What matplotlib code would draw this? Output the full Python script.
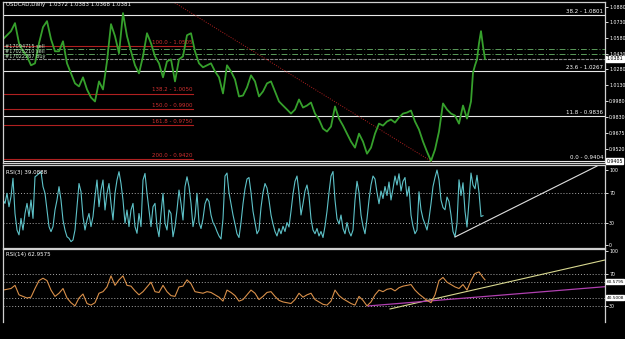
import matplotlib
matplotlib.use('Agg')
import matplotlib.pyplot as plt
import numpy as np

# ---- USDCAD daily closes (bar number / price)
price_days = [3, 7, 11, 15, 19, 23, 27, 31, 35, 39, 43, 47, 51, 55, 59, 63, 67, 71, 75, 79,
              83, 87, 91, 95, 99, 103, 107, 111, 115, 119, 123, 127, 131, 135, 139, 143, 147, 151, 155, 159,
              163, 167, 171, 175, 179, 183, 187, 191, 195, 199, 203, 207, 211, 215, 219, 223, 227, 231, 235, 239,
              243, 247, 251, 255, 259, 263, 267, 271, 275, 279, 283, 287, 291, 295, 299, 303, 307, 311, 315, 319,
              323, 327, 331, 335, 339, 343, 347, 351, 355, 359, 363, 367, 371, 375, 379, 383, 387, 391, 395, 399,
              403, 407, 411, 415, 419, 423, 427, 431, 435, 439, 443, 447, 451, 455, 459, 463, 467, 471, 473, 475,
              477, 479, 481, 483, 485]
price_close = [1.0570, 1.0608, 1.0647, 1.0724, 1.0531, 1.0454, 1.0406, 1.0320, 1.0339, 1.0531,
               1.0685, 1.0743, 1.0570, 1.0454, 1.0454, 1.0550, 1.0339, 1.0243, 1.0147, 1.0118,
               1.0205, 1.0089, 1.0012, 0.9974, 1.0166, 1.0089, 1.0358, 1.0714, 1.0599, 1.0435,
               1.0820, 1.0599, 1.0454, 1.0320, 1.0243, 1.0406, 1.0627, 1.0531, 1.0406, 1.0339,
               1.0205, 1.0358, 1.0377, 1.0166, 1.0377, 1.0406, 1.0608, 1.0627, 1.0454, 1.0339,
               1.0301, 1.0320, 1.0339, 1.0262, 1.0205, 1.0051, 1.0320, 1.0262, 1.0185, 1.0022,
               1.0031, 1.0108, 1.0224, 1.0166, 1.0022, 1.0070, 1.0147, 1.0166, 1.0070, 0.9974,
               0.9935, 0.9897, 0.9858, 0.9897, 0.9993, 0.9916, 0.9935, 0.9964, 0.9858, 0.9801,
               0.9714, 0.9686, 0.9734, 0.9926, 0.9810, 0.9743, 0.9666, 0.9590, 0.9532, 0.9666,
               0.9590, 0.9474, 0.9532, 0.9666, 0.9762, 0.9743, 0.9782, 0.9801, 0.9772, 0.9820,
               0.9858, 0.9868, 0.9887, 0.9782, 0.9705, 0.9590, 0.9493, 0.9405, 0.9513, 0.9686,
               0.9955, 0.9897, 0.9858, 0.9839, 0.9762, 0.9935, 0.9810, 0.9974, 1.0250, 1.0320,
               1.0377, 1.0531, 1.0647, 1.0502, 1.0381]

price_ticks = [1.0880, 1.0730, 1.0580, 1.0430, 1.0280, 1.0130, 0.9980, 0.9830, 0.9675, 0.9520]

fib_levels = ['38.2', '23.6', '11.8', '0.0']
fib_prices = [1.0801, 1.0267, 0.9836, 0.9404]

ext_levels = ['100.0', '138.2', '150.0', '161.8', '200.0']
ext_prices = [1.0505, 1.0050, 0.9900, 0.9750, 0.9420]

order_labels = ['#17094715 sell', '#17025210 sell', '#17022267 buy']
order_prices = [1.0476, 1.0428, 1.0381]

# ---- RSI(3), one value every 2 bars
rsi3 = [35.5, 60, 55.5, 69, 51, 64.5, 89, 42, 20, 13.5,
        35.5, 20, 42, 55.5, 38, 60, 35.5, 91, 93, 95.5,
        97.8, 77.8, 69, 46.7, 24.5, 17.8, 24.5, 46.7, 60, 77.8,
        60, 33.3, 20, 11, 8.9, 4.5, 6.7, 20, 51, 82,
        71, 38, 20, 33, 42, 24.5, 38, 64.5, 86.7, 51,
        73.3, 86.7, 46.7, 69, 82, 55.5, 33.3, 69, 86.7, 97.8,
        82, 60, 29, 46.7, 24.5, 46.7, 55.5, 24.5, 15.6, 42,
        24.5, 86.7, 95.5, 69, 46.7, 24.5, 51, 55.5, 24.5, 11,
        42, 69, 29, 20, 46.7, 42, 11, 24.5, 46.7, 73.3,
        55.5, 33.3, 77.8, 91, 77.8, 55.5, 24.5, 38, 69, 30,
        # bars 200..418
        22, 35, 55, 62, 58, 40, 30, 25, 18, 12,
        8, 35, 92, 96, 70, 55, 40, 28, 15, 10,
        30, 55, 75, 88, 90, 70, 45, 30, 15, 20,
        50, 70, 82, 76, 60, 40, 28, 18, 12, 22,
        15, 25, 18, 30, 24, 45, 68, 85, 92, 70,
        40, 55, 72, 80, 65, 35, 20, 15, 22, 12,
        18, 10, 25, 45, 70, 92, 98, 60, 35, 28,
        40, 22, 15, 30, 18, 12, 20, 60, 85, 70,
        40, 25, 15, 35, 60, 80, 92, 88, 70, 55,
        72, 62, 78, 66, 84, 60, 75, 92, 80, 95,
        72, 85, 90, 65, 78, 40, 25, 15, 20, 71,
        # bars 422..484
        47, 35, 28, 20, 35, 55, 78, 90, 100, 87,
        60, 50, 47, 64, 58, 40, 18, 11, 29, 87,
        66, 83, 45, 24, 58, 96, 80, 75, 93, 70,
        38, 39.09]

# ---- RSI(14)
rsi14_days = [3, 7, 11, 15, 19, 23, 27, 31, 35, 39, 43, 47, 51, 55, 59, 63, 67, 71, 75, 79,
              83, 87, 91, 95, 99, 103, 107, 111, 115, 119, 123, 127, 131, 135, 139, 143, 147, 151, 155, 159,
              163, 167, 171, 175, 179, 183, 187, 191, 195, 199, 203, 207, 211, 215, 219, 223, 227, 231, 235, 239,
              243, 247, 251, 255, 259, 263, 267, 271, 275, 279, 283, 287, 291, 295, 299, 303, 307, 311, 315, 319,
              323, 327, 331, 335, 339, 343, 347, 351, 355, 359, 363, 367, 371, 375, 379, 383, 387, 391, 395, 399,
              403, 407, 411, 415, 419, 423, 427, 431, 435, 439, 443, 447, 451, 455, 459, 463, 467, 471, 475, 479,
              483, 485]
rsi14 = [50, 51, 52, 56, 44, 42, 40, 41, 52, 62, 65, 62, 50, 42, 46, 52, 40, 34, 30, 40,
         45, 33, 31, 34, 46, 48, 54, 68, 56, 63, 68, 56, 55, 49, 44, 48, 54, 60, 48, 47,
         56, 48, 43, 42, 54, 55, 63, 58, 48, 47, 46, 48, 47, 44, 41, 36, 50, 47, 43, 36,
         38, 44, 50, 46, 38, 42, 47, 48, 42, 37, 35, 34, 33, 38, 46, 41, 44, 46, 38, 35,
         32, 31, 36, 50, 43, 39, 36, 33, 31, 42, 37, 30, 35, 44, 50, 48, 51, 52, 49, 53,
         55, 56, 57, 50, 45, 41, 37, 34, 44, 62, 66, 60, 57, 54, 52, 57, 50, 62, 71, 73,
         66, 62.96]

rsi14_levels = [60.5795, 40.5008]

green = '#36a02c'
grid_grey = '#a8a8a8'
frame = '#d0d0d0'
fs = 4
axfs = 3.4

fig = plt.figure(figsize=(6.25, 3.39), dpi=100, facecolor='black')
ax1 = fig.add_axes([3/625, 1-163/339, 602/625, 161/339])
ax2 = fig.add_axes([3/625, 1-248/339, 602/625, 83/339])
ax3 = fig.add_axes([3/625, 1-322/339, 602/625, 73/339])

for ax in (ax1, ax2, ax3):
    ax.set_facecolor('black')
    ax.set_xlim(3, 605)
    ax.set_xticks([])
    ax.yaxis.tick_right()
    ax.tick_params(axis='y', colors='white', labelsize=axfs, length=2, width=0.6, pad=1)
    for s in ax.spines.values():
        s.set_color(frame)
        s.set_linewidth(0.9)
ax3.spines['bottom'].set_visible(False)

# ---- main price panel
ax1.set_ylim(0.9385, 1.0926)
ax1.set_yticks(price_ticks)
ax1.set_yticklabels(['%.4f' % p for p in price_ticks])

for name, p in zip(fib_levels, fib_prices):
    ax1.axhline(p, color='#e8e8e8', lw=0.8)
    ax1.text(603, p + 0.0012, '%s - %.4f' % (name, p), color='white', fontsize=fs,
             ha='right', va='bottom')

for name, p in zip(ext_levels, ext_prices):
    ax1.plot([3, 193], [p, p], color='#b02020', lw=0.8)
    ax1.text(193, p + 0.0012, '%s - %.4f' % (name, p), color='#d03030', fontsize=fs,
             ha='right', va='bottom')

ax1.axhline(order_prices[0], color='#5a9a5a', lw=0.7, ls=(0, (6, 2, 1, 2)))
ax1.axhline(order_prices[1], color='#5a9a5a', lw=0.7, ls=(0, (6, 2, 1, 2)))
ax1.axhline(order_prices[2], color='#8a8a8a', lw=0.8, ls=(0, (3, 1)))
for lab, p in zip(order_labels, order_prices):
    ax1.text(5, p + 0.0004, lab, color='#c8e8c8', fontsize=3.6, ha='left', va='bottom')

ax1.plot([165, 432], [1.0976, 0.9397], color='#b02020', lw=0.7, ls=(0, (1, 1.5)))

ax1.plot(price_days, price_close, color=green, lw=1.3)

ax1.text(6, 1.0902, 'USDCAD,Daily  1.0372 1.0383 1.0368 1.0381', color='white',
         fontsize=fs, ha='left', va='center')

box = dict(boxstyle='square,pad=0.1', fc='white', ec='white')
ax1.text(606.5, 1.0381, '1.0381', color='black', fontsize=axfs, ha='left', va='center',
         bbox=box, clip_on=False)
ax1.text(606.5, 0.9404, '0.9405', color='black', fontsize=axfs, ha='left', va='center',
         bbox=box, clip_on=False)

# ---- RSI(3)
rsi3_days = np.arange(len(rsi3)) * 2 + 1
ax2.set_ylim(-4, 106.7)
ax2.set_yticks([100, 70, 30, 0])
ax2.set_yticklabels(['100', '70', '30', '0'])
for lv in (70, 30):
    ax2.axhline(lv, color=grid_grey, lw=0.7, ls=(0, (1, 2)))
ax2.plot(rsi3_days, rsi3, color='#5ec2c8', lw=0.8)
ax2.plot([455, 597], [10.7, 105.3], color='#e0e0e0', lw=0.8)
ax2.text(6, 97, 'RSI(3) 39.0888', color='white', fontsize=fs, ha='left', va='center')

# ---- RSI(14)
ax3.set_ylim(9.6, 102)
ax3.set_yticks([100, 70, 30])
ax3.set_yticklabels(['100', '70', '30'])
for lv in [70] + rsi14_levels + [30]:
    ax3.axhline(lv, color=grid_grey, lw=0.7, ls=(0, (1, 2)))
ax3.plot([390, 605], [26.1, 88.1], color='#d8d890', lw=0.8)
ax3.plot([368, 605], [29.9, 54.3], color='#b040b0', lw=0.9)
ax3.plot(rsi14_days, rsi14, color='#d9904a', lw=0.8)
ax3.text(6, 95, 'RSI(14) 62.9575', color='white', fontsize=fs, ha='left', va='center')
for lv in rsi14_levels:
    ax3.text(606.5, lv, '%.4f' % lv, color='black', fontsize=3.1, ha='left', va='center',
             bbox=box, clip_on=False)

fig.savefig('out.png', dpi=100, facecolor='black')
